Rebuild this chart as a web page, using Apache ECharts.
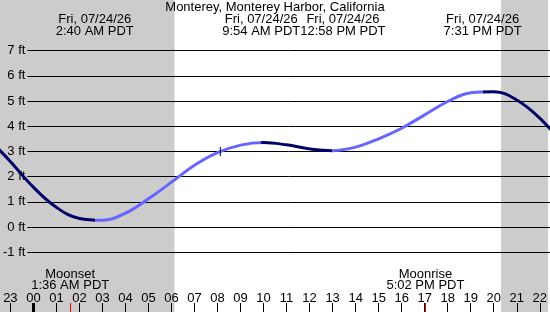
<!DOCTYPE html>
<html>
<head>
<meta charset="utf-8">
<script src="https://cdn.jsdelivr.net/npm/echarts@6/dist/echarts.min.js"></script>
<style>
html, body { margin: 0; padding: 0; background: #fff; }
#container { width: 550px; height: 312px; }
</style>
</head>
<body>
<div id="container"></div>
<script>
var title = 'Monterey, Monterey Harbor, California';
var dateLabel = 'Fri, 07/24/26';

// tide height (ft) each hour from local midnight (-2 = 22:00 the day before)
var tideHours = [-2, -1, 0, 1, 2, 3, 4, 5, 6, 7, 8, 9, 10, 11, 12, 13,
    14, 15, 16, 17, 18, 19, 20, 21, 22, 23];
var tideFeet = [3.55, 2.6, 1.58, 0.78, 0.34, 0.27, 0.55, 1.12, 1.78, 2.45, 2.95, 3.25, 3.35, 3.26, 3.1, 3.03,
    3.17, 3.5, 3.92, 4.45, 4.98, 5.33, 5.37, 5.04, 4.32, 3.3];

// high / low waters
var extremeHours = [2.667, 9.9, 12.967, 19.517];
var extremeTimes = ['2:40 AM PDT', '9:54 AM PDT', '12:58 PM PDT', '7:31 PM PDT'];

var moonHours = [1.6, 17.033];
var moonNames = ['Moonset', 'Moonrise'];
var moonTimes = ['1:36 AM PDT', '5:02 PM PDT'];

var sunrise = 6.13;
var sunset = 20.32;

var nowHour = 8.12;
var nowFeet = 3.0;

var hourTicks = [-1, 0, 1, 2, 3, 4, 5, 6, 7, 8, 9, 10, 11, 12, 13, 14, 15, 16, 17, 18, 19, 20, 21, 22];

var FONT = '"Liberation Sans", Arial, sans-serif';
var FALL = '#000066';
var RISE = '#6666ff';
var xMin = -1.45, xMax = 22.36;
var yMin = -3.373, yMax = 9.008;

var dom = document.getElementById('container');
var myChart = echarts.init(dom);

var curve = [];
for (var i = 0; i < tideHours.length; i++) {
    curve.push([tideHours[i], tideFeet[i]]);
}

// falling / rising colour pieces, split at the extremes
var bounds = [-3].concat(extremeHours, [24]);
var pieces = [];
for (var j = 0; j < bounds.length - 1; j++) {
    var p = { gte: bounds[j], color: j % 2 ? RISE : FALL };
    if (j < bounds.length - 2) p.lt = bounds[j + 1]; else p.lte = bounds[j + 1];
    pieces.push(p);
}

function hourText(v) {
    var h = ((Math.round(v) % 24) + 24) % 24;
    return (h < 10 ? '0' : '') + h;
}

function tickAxis(values, color, width, labels) {
    return {
        gridIndex: 1, type: 'value', min: xMin, max: xMax, position: 'bottom', offset: 0, z: 5,
        axisLine: { show: false, onZero: false },
        splitLine: { show: false },
        axisTick: { inside: true, length: 9, customValues: values, lineStyle: { color: color, width: width } },
        axisLabel: {
            show: labels, inside: true, margin: 7, customValues: values, formatter: hourText,
            color: '#000', fontSize: 13, fontFamily: FONT
        }
    };
}

var option = {
    animation: false,
    grid: [
        { left: 26, right: 0, top: 50.6, height: 201.6 },
        { left: 0, right: 0, top: 0, bottom: 0 }
    ],
    xAxis: [
        { gridIndex: 0, type: 'value', show: false, min: 0, max: 1 },
        tickAxis(hourTicks, '#000', 1, true),
        tickAxis([0], '#000', 3, false),
        tickAxis(moonHours, '#ff0000', 1, false)
    ],
    yAxis: [
        {
            gridIndex: 0, type: 'value', min: -1, max: 7, interval: 1, z: 5,
            axisLine: { show: false },
            axisTick: { show: false },
            splitLine: { lineStyle: { color: '#000', width: 1 } },
            axisLabel: { formatter: '{value} ft', margin: 2, color: '#000', fontSize: 13, fontFamily: FONT }
        },
        { gridIndex: 1, type: 'value', min: yMin, max: yMax, show: false }
    ],
    visualMap: {
        type: 'piecewise', show: false, seriesIndex: 0, dimension: 0, pieces: pieces
    },
    series: [
        {
            type: 'line', xAxisIndex: 1, yAxisIndex: 1, data: curve,
            smooth: 0.4, showSymbol: false, silent: true, z: 6,
            lineStyle: { width: 3 },
            markPoint: {
                silent: true, z: 7,
                symbol: 'rect', symbolSize: [1, 9],
                itemStyle: { color: '#000' },
                label: { show: false },
                data: [{ coord: [nowHour, nowFeet] }]
            }
        },
        {
            type: 'line', xAxisIndex: 1, yAxisIndex: 1, data: [], z: -1, silent: true,
            markArea: {
                silent: true, z: -1,
                itemStyle: { color: '#cccccc' },
                data: [
                    [{ xAxis: xMin }, { xAxis: sunrise }],
                    [{ xAxis: sunset }, { xAxis: xMax }]
                ]
            }
        }
    ]
};
myChart.setOption(option, true);

// text blocks placed over their times
var ctx = document.createElement('canvas').getContext('2d');
ctx.font = '13px ' + FONT;
function textLine(text, x, y) {
    return { type: 'text', z: 10, style: { text: text, x: x, y: y, font: '13px ' + FONT, fill: '#000', align: 'center', verticalAlign: 'middle' } };
}

var graphics = [textLine(title, 275, 7)];
var prevRight = -Infinity;
for (var k = 0; k < extremeHours.length; k++) {
    var px = myChart.convertToPixel({ xAxisIndex: 1 }, extremeHours[k]);
    var w = Math.max(ctx.measureText(dateLabel).width, ctx.measureText(extremeTimes[k]).width);
    var cx = Math.max(px, prevRight + w / 2);
    prevRight = cx + w / 2;
    graphics.push(textLine(dateLabel, cx, 19), textLine(extremeTimes[k], cx, 31.5));
}
for (var m = 0; m < moonHours.length; m++) {
    var mx = myChart.convertToPixel({ xAxisIndex: 1 }, moonHours[m]);
    graphics.push(textLine(moonNames[m], mx, 274), textLine(moonTimes[m], mx, 285.5));
}
myChart.setOption({ graphic: graphics });

window.onresize = function () {
    myChart.resize();
};
</script>
</body>
</html>
